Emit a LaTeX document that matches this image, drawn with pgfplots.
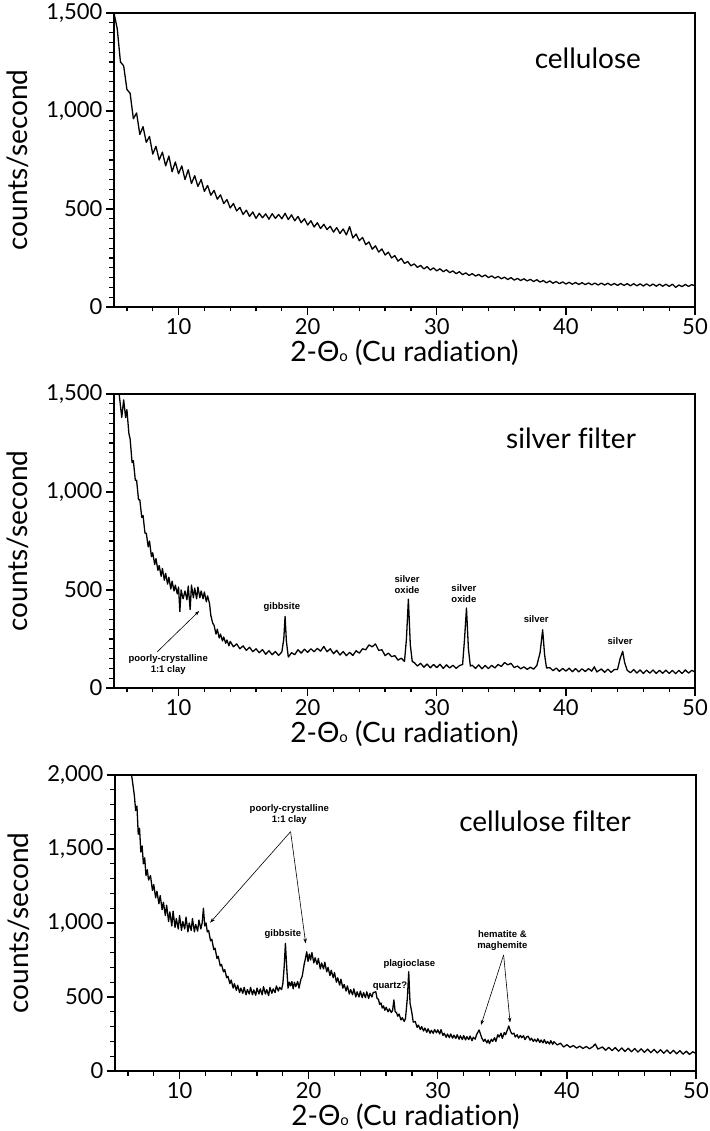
\documentclass[border=0pt]{standalone}
\usepackage{fontspec}
\setmainfont{Lato}[Ligatures=NoCommon]
\newfontfamily\annot{Liberation Sans}
\usepackage{pgfplots}
\pgfplotsset{compat=1.18}
\usetikzlibrary{arrows.meta}

\newcommand{\ticksize}{\fontsize{22}{26}\selectfont}
\newcommand{\labsize}{\fontsize{28}{32}\selectfont}
\newcommand{\notefont}{\annot\bfseries\fontsize{9.5}{11}\selectfont}

\pgfplotsset{
  xrd/.style={
    scale only axis, width=581pt, height=294pt,
    xmin=5, xmax=50,
    xtick={10,20,30,40,50}, minor xtick={6,8,...,50},
    tick pos=left, tick align=outside,
    major tick length=8pt, minor tick length=4.5pt,
    every tick/.style={black, line width=1.3pt},
    axis line style={line width=1.7pt},
    tick label style={font=\ticksize},
    /pgf/number format/assume math mode=true,
    /pgf/number format/1000 sep={,},
    scaled ticks=false,
    xlabel={2-Θ{\fontsize{15}{15}\selectfont o} (Cu radiation)},
    ylabel={counts/second},
    label style={font=\labsize},
    xlabel style={at={(axis description cs:0.5,-0.155)}, anchor=center},
    ylabel style={at={(axis description cs:-0.165,0.5)}, anchor=center},
  },
}
\tikzset{
  trace/.style={black, line width=1.3pt, line join=round},
  note/.style={font=\notefont, align=center, inner sep=1pt},
  pointer/.style={-{Stealth[length=5pt,width=3.5pt]}, line width=0.6pt},
}

\begin{document}
\begin{tikzpicture}
\path[use as bounding box] (0,0) rectangle (709pt,1131pt);

% cellulose
\begin{axis}[xrd, at={(114pt,824pt)}, anchor=south west,
  ymin=0, ymax=1500, ytick={0,500,1000,1500}, minor ytick={0,50,...,1500}]
\addplot[trace] coordinates {
(5.00,1500)(5.25,1420)(5.50,1250)(5.75,1230)(6.00,1110)(6.25,1090)(6.50,960)(6.75,990)
(7.00,880)(7.25,920)(7.50,840)(7.75,870)(8.00,780)(8.25,820)(8.50,750)(8.75,790)
(9.00,720)(9.25,770)(9.50,690)(9.75,740)(10.00,680)(10.25,720)(10.50,650)(10.75,700)
(11.00,630)(11.25,670)(11.50,615)(11.75,650)(12.00,590)(12.25,620)(12.50,570)(12.75,595)
(13.00,550)(13.25,572)(13.50,528)(13.75,548)(14.00,505)(14.25,528)(14.50,490)(14.75,508)
(15.00,472)(15.25,494)(15.50,462)(15.75,485)(16.00,452)(16.25,478)(16.50,455)(16.75,475)
(17.00,448)(17.25,476)(17.50,452)(17.75,472)(18.00,450)(18.25,478)(18.50,446)(18.75,470)
(19.00,440)(19.25,462)(19.50,430)(19.75,450)(20.00,418)(20.25,440)(20.50,408)(20.75,430)
(21.00,400)(21.25,422)(21.50,395)(21.75,412)(22.00,382)(22.25,405)(22.50,375)(22.75,398)
(23.00,368)(23.25,410)(23.50,352)(23.75,372)(24.00,338)(24.25,355)(24.50,318)(24.75,332)
(25.00,295)(25.25,312)(25.50,280)(25.75,296)(26.00,265)(26.25,280)(26.50,250)(26.75,262)
(27.00,234)(27.25,248)(27.50,222)(27.75,232)(28.00,210)(28.25,220)(28.50,202)(28.75,212)
(29.00,194)(29.25,206)(29.50,188)(29.75,200)(30.00,184)(30.25,195)(30.50,180)(30.75,190)
(31.00,175)(31.25,184)(31.50,170)(31.75,180)(32.00,165)(32.25,174)(32.50,161)(32.75,170)
(33.00,158)(33.25,166)(33.50,154)(33.75,163)(34.00,150)(34.25,159)(34.50,147)(34.75,156)
(35.00,144)(35.25,152)(35.50,140)(35.75,150)(36.00,137)(36.25,146)(36.50,135)(36.75,144)
(37.00,133)(37.25,141)(37.50,130)(37.75,139)(38.00,127)(38.25,135)(38.50,123)(38.75,133)
(39.00,121)(39.25,130)(39.50,119)(39.75,128)(40.00,117)(40.25,126)(40.50,116)(40.75,125)
(41.00,115)(41.25,124)(41.50,114)(41.75,123)(42.00,113)(42.25,122)(42.50,112)(42.75,122)
(43.00,112)(43.25,121)(43.50,111)(43.75,120)(44.00,110)(44.25,120)(44.50,110)(44.75,119)
(45.00,108)(45.25,119)(45.50,108)(45.75,118)(46.00,107)(46.25,118)(46.50,107)(46.75,117)
(47.00,106)(47.25,117)(47.50,106)(47.75,116)(48.00,105)(48.25,116)(48.50,100)(48.75,112)
(49.00,104)(49.25,115)(49.50,105)(49.75,114)(50.00,108)
};
\node[font=\labsize] at (axis cs:41.7,1270) {cellulose};
\end{axis}

% silver filter
\begin{axis}[xrd, at={(114pt,443pt)}, anchor=south west,
  ymin=0, ymax=1500, ytick={0,500,1000,1500}, minor ytick={0,50,...,1500}]
\addplot[trace] coordinates {
(5.25,1560)(5.40,1500)(5.50,1440)(5.60,1380)(5.75,1470)(5.90,1380)(6.00,1420)(6.15,1300)
(6.25,1270)(6.40,1150)(6.50,1160)(6.65,1060)(6.75,1060)(6.90,960)(7.00,960)(7.15,870)
(7.25,880)(7.40,790)(7.50,790)(7.65,720)(7.75,750)(7.90,670)(8.00,690)(8.15,630)
(8.25,660)(8.40,600)(8.50,625)(8.65,570)(8.75,610)(8.90,550)(9.00,585)(9.15,530)
(9.25,565)(9.40,505)(9.50,545)(9.65,495)(9.75,525)(9.90,480)(10.00,515)(10.10,390)
(10.20,500)(10.35,455)(10.50,495)(10.65,450)(10.75,520)(10.90,400)(11.00,525)(11.15,460)
(11.25,510)(11.40,455)(11.50,515)(11.65,460)(11.75,495)(11.90,455)(12.00,490)(12.15,440)
(12.25,470)(12.40,430)(12.50,370)(12.65,330)(12.75,320)(12.90,275)(13.00,300)(13.15,255)
(13.25,275)(13.40,240)(13.50,260)(13.65,228)(13.75,245)(13.90,215)(14.00,238)(14.25,210)
(14.50,225)(14.75,200)(15.00,215)(15.25,192)(15.50,208)(15.75,185)(16.00,200)(16.25,180)
(16.50,196)(16.75,172)(17.00,190)(17.25,170)(17.50,186)(17.75,166)(18.00,184)(18.15,250)
(18.25,365)(18.35,240)(18.50,158)(18.75,180)(19.00,170)(19.25,195)(19.50,178)(19.75,198)
(20.00,182)(20.25,200)(20.50,185)(20.75,202)(21.00,188)(21.25,212)(21.50,185)(21.75,200)
(22.00,175)(22.25,192)(22.50,168)(22.75,186)(23.00,165)(23.25,182)(23.50,166)(23.75,190)
(24.00,178)(24.25,200)(24.50,195)(24.75,220)(25.00,210)(25.25,225)(25.50,192)(25.75,195)
(26.00,165)(26.25,178)(26.50,160)(26.75,165)(27.00,142)(27.25,152)(27.50,136)(27.65,250)
(27.80,453)(27.95,220)(28.10,135)(28.25,130)(28.50,112)(28.75,126)(29.00,106)(29.25,122)
(29.50,103)(29.75,120)(30.00,104)(30.25,121)(30.50,100)(30.75,118)(31.00,102)(31.25,116)
(31.50,100)(31.75,114)(32.00,120)(32.15,250)(32.30,408)(32.45,200)(32.60,112)(32.75,116)
(33.00,100)(33.25,118)(33.50,98)(33.75,115)(34.00,99)(34.25,116)(34.50,102)(34.75,120)
(35.00,110)(35.25,130)(35.50,118)(35.75,126)(36.00,104)(36.25,112)(36.50,98)(36.75,108)
(37.00,95)(37.25,106)(37.50,96)(37.75,115)(38.00,180)(38.20,297)(38.35,170)(38.50,102)
(38.75,104)(39.00,88)(39.25,102)(39.50,85)(39.75,100)(40.00,86)(40.25,101)(40.50,83)
(40.75,99)(41.00,82)(41.25,98)(41.50,84)(41.75,99)(42.00,86)(42.20,108)(42.40,82)
(42.75,97)(43.00,80)(43.25,96)(43.50,80)(43.75,94)(44.00,95)(44.20,150)(44.40,187)
(44.55,130)(44.75,90)(45.00,78)(45.25,94)(45.50,76)(45.75,92)(46.00,74)(46.25,91)
(46.50,76)(46.75,92)(47.00,74)(47.25,90)(47.50,75)(47.75,91)(48.00,74)(48.25,90)
(48.50,73)(48.75,90)(49.00,74)(49.25,92)(49.50,76)(49.75,90)(50.00,82)
};
\node[font=\labsize] at (axis cs:40.4,1275) {silver filter};
\node[note] at (axis cs:9.2,122) {poorly-crystalline\\1:1 clay};
\draw[pointer] (axis cs:8.34,184) -- (axis cs:11.6,393);
\node[note] at (axis cs:18.0,413) {gibbsite};
\node[note] at (axis cs:27.7,525) {silver\\oxide};
\node[note] at (axis cs:32.1,482) {silver\\oxide};
\node[note] at (axis cs:37.7,352) {silver};
\node[note] at (axis cs:44.2,240) {silver};
\end{axis}

% cellulose filter
\begin{axis}[xrd, at={(115pt,60pt)}, anchor=south west, height=296pt,
  ymin=0, ymax=2000, ytick={0,500,1000,1500,2000}, minor ytick={0,100,...,2000}]
\addplot[trace] coordinates {
(6.20,2050)(6.35,1960)(6.50,1860)(6.60,1760)(6.70,1790)(6.80,1600)(6.90,1640)(7.00,1480)
(7.10,1520)(7.20,1400)(7.30,1440)(7.40,1320)(7.50,1360)(7.60,1290)(7.75,1320)(7.90,1220)
(8.00,1260)(8.15,1170)(8.25,1215)(8.40,1130)(8.50,1185)(8.65,1090)(8.75,1140)(8.90,1050)
(9.00,1120)(9.15,1010)(9.25,1075)(9.40,980)(9.50,1080)(9.65,970)(9.75,1030)(9.90,960)
(10.00,1050)(10.15,950)(10.25,1010)(10.40,960)(10.50,1040)(10.65,940)(10.75,1000)(10.90,950)
(11.00,1030)(11.15,940)(11.25,990)(11.40,945)(11.50,1020)(11.65,960)(11.75,1000)(11.85,1100)
(11.95,980)(12.05,1000)(12.15,940)(12.25,950)(12.40,880)(12.50,890)(12.65,820)(12.75,830)
(12.90,760)(13.00,775)(13.15,710)(13.25,720)(13.40,670)(13.50,685)(13.65,630)(13.75,640)
(13.90,590)(14.00,615)(14.15,560)(14.25,590)(14.40,545)(14.50,580)(14.65,530)(14.75,560)
(14.90,525)(15.00,565)(15.15,515)(15.25,550)(15.40,520)(15.50,565)(15.65,515)(15.75,548)
(15.90,512)(16.00,560)(16.15,520)(16.25,555)(16.40,515)(16.50,570)(16.65,520)(16.75,550)
(16.90,510)(17.00,565)(17.15,525)(17.25,555)(17.40,530)(17.50,575)(17.65,540)(17.75,565)
(17.90,550)(18.00,590)(18.10,700)(18.20,862)(18.30,700)(18.40,560)(18.50,600)(18.60,575)
(18.70,605)(18.80,555)(18.90,600)(19.00,570)(19.15,605)(19.25,560)(19.40,620)(19.50,640)
(19.65,720)(19.75,760)(19.85,806)(19.95,740)(20.05,790)(20.15,750)(20.25,800)(20.40,730)
(20.50,765)(20.65,720)(20.75,760)(20.90,690)(21.00,730)(21.15,690)(21.25,735)(21.40,670)
(21.50,700)(21.65,645)(21.75,680)(21.90,630)(22.00,665)(22.15,600)(22.25,630)(22.40,580)
(22.50,620)(22.65,560)(22.75,585)(22.90,540)(23.00,575)(23.15,520)(23.25,550)(23.40,515)
(23.50,555)(23.65,500)(23.75,535)(23.90,500)(24.00,540)(24.15,495)(24.25,530)(24.40,495)
(24.50,535)(24.65,490)(24.75,525)(24.90,500)(25.00,530)(25.20,535)(25.30,490)(25.40,485)
(25.50,450)(25.60,460)(25.70,425)(25.80,440)(25.90,410)(26.00,430)(26.15,400)(26.25,420)
(26.40,395)(26.50,410)(26.60,480)(26.70,400)(26.80,395)(26.90,370)(27.00,385)(27.15,345)
(27.25,360)(27.40,335)(27.50,355)(27.65,500)(27.75,671)(27.85,460)(28.00,390)(28.10,330)
(28.25,335)(28.40,295)(28.50,310)(28.65,280)(28.75,300)(28.90,270)(29.00,290)(29.15,262)
(29.25,285)(29.40,255)(29.50,275)(29.65,255)(29.75,280)(29.90,258)(30.00,278)(30.15,250)
(30.25,280)(30.40,240)(30.50,255)(30.65,228)(30.75,250)(30.90,225)(31.00,250)(31.15,222)
(31.25,242)(31.40,220)(31.50,245)(31.65,215)(31.75,238)(31.90,212)(32.00,240)(32.15,210)
(32.25,232)(32.40,212)(32.50,236)(32.65,205)(32.75,228)(32.90,215)(33.00,245)(33.20,277)
(33.40,225)(33.55,200)(33.65,215)(33.80,190)(33.90,210)(34.00,185)(34.15,215)(34.25,200)
(34.40,225)(34.50,200)(34.65,245)(34.75,230)(34.90,255)(35.00,220)(35.15,260)(35.25,245)
(35.40,280)(35.50,304)(35.65,265)(35.75,250)(35.90,255)(36.00,230)(36.15,245)(36.25,222)
(36.40,240)(36.50,225)(36.65,238)(36.75,212)(36.90,232)(37.00,235)(37.15,208)(37.25,222)
(37.40,200)(37.50,215)(37.65,198)(37.75,218)(37.90,192)(38.00,210)(38.15,190)(38.25,212)
(38.40,185)(38.50,200)(38.65,182)(38.75,205)(38.90,180)(39.00,198)(39.25,176)(39.50,188)
(39.75,162)(40.00,178)(40.25,160)(40.50,172)(40.75,155)(41.00,168)(41.25,152)(41.50,166)
(41.75,150)(42.00,164)(42.20,182)(42.40,148)(42.75,162)(43.00,140)(43.25,160)(43.50,138)
(43.75,158)(44.00,134)(44.25,156)(44.50,132)(44.75,154)(45.00,130)(45.25,152)(45.50,128)
(45.75,150)(46.00,126)(46.25,148)(46.50,124)(46.75,146)(47.00,122)(47.25,144)(47.50,120)
(47.75,142)(48.00,118)(48.25,140)(48.50,116)(48.75,138)(49.00,114)(49.25,134)(49.50,112)
(49.75,130)(50.00,118)
};
\node[font=\labsize] at (axis cs:38.3,1685) {cellulose filter};
\node[note] at (axis cs:18.5,1730) {poorly-crystalline\\1:1 clay};
\draw[pointer] (axis cs:18.6,1617) -- (axis cs:12.37,1002);
\draw[pointer] (axis cs:18.6,1617) -- (axis cs:19.77,862);
\node[note] at (axis cs:18.0,926) {gibbsite};
\node[note] at (axis cs:27.8,723) {plagioclase};
\node[note] at (axis cs:26.3,570) {quartz?};
\node[note] at (axis cs:35.0,883) {hematite \&\\maghemite};
\draw[pointer] (axis cs:35.1,784) -- (axis cs:33.35,311);
\draw[pointer] (axis cs:35.1,784) -- (axis cs:35.6,327);
\end{axis}
\end{tikzpicture}
\end{document}
